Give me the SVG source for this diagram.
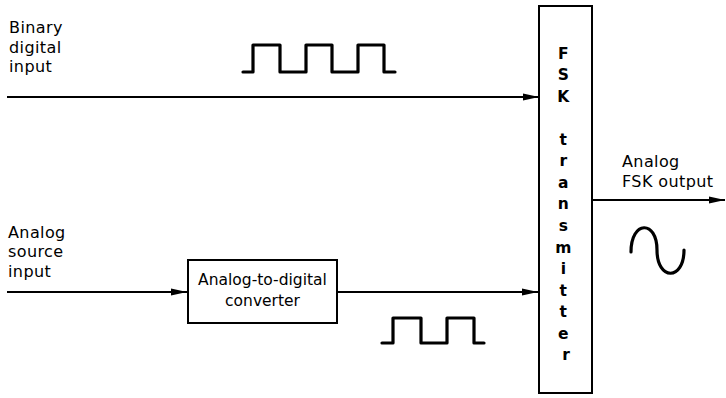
<svg xmlns="http://www.w3.org/2000/svg" width="726" height="398" viewBox="0 0 726 398">
  <defs>
    <marker id="arrow" viewBox="0 0 16 8" refX="16" refY="4" markerWidth="16" markerHeight="8" markerUnits="userSpaceOnUse" orient="auto">
      <path d="M0,0.6 L16,4 L0,7.4 Z" fill="#000"/>
    </marker>
  </defs>
  <style>
    .lbl { font-family: "DejaVu Sans", "Liberation Sans", sans-serif; font-size: 16px; letter-spacing: 0.4px; fill: #000; }
    .inbox { font-family: "DejaVu Sans", "Liberation Sans", sans-serif; font-size: 15.5px; fill: #000; }
    .box { fill: #fff; stroke: #000; stroke-width: 2; }
    .wire { fill: none; stroke: #000; stroke-width: 1.8; }
    .wave { fill: none; stroke: #000; stroke-width: 3.2; stroke-linejoin: round; stroke-linecap: round; }
    .vert { font-family: "DejaVu Sans", "Liberation Sans", sans-serif; font-size: 15.5px; font-weight: bold; fill: #000; }
  </style>
  <rect width="726" height="398" fill="#fff"/>

  <!-- connectors -->
  <g id="connectors">
    <path class="wire" d="M7,97 L539,97" marker-end="url(#arrow)"/>
    <path class="wire" d="M7,292 L187,292" marker-end="url(#arrow)"/>
    <path class="wire" d="M337,292 L538,292" marker-end="url(#arrow)"/>
    <path class="wire" d="M592,200 L725,200" marker-end="url(#arrow)"/>
  </g>

  <!-- input labels -->
  <g id="binary-input">
    <text class="lbl" x="9" y="33">Binary</text>
    <text class="lbl" x="9" y="53">digital</text>
    <text class="lbl" x="9" y="72">input</text>
  </g>
  <g id="analog-input">
    <text class="lbl" x="8" y="238">Analog</text>
    <text class="lbl" x="8" y="257">source</text>
    <text class="lbl" x="8" y="277">input</text>
  </g>

  <!-- digital pulse trains -->
  <g id="binary-pulses">
    <path class="wave" d="M243,72 L253,72 L253,45 L280,45 L280,72 L306,72 L306,45 L332,45 L332,72 L358,72 L358,45 L384,45 L384,72 L395,72"/>
  </g>
  <g id="converted-pulses">
    <path class="wave" d="M382,343 L393,343 L393,318 L421,318 L421,343 L447,343 L447,318 L474,318 L474,343 L484,343"/>
  </g>

  <!-- analog-to-digital converter -->
  <g id="adc">
    <rect class="box" x="188" y="260" width="149" height="63"/>
    <text class="inbox" x="262.5" y="285" text-anchor="middle">Analog-to-digital</text>
    <text class="inbox" x="262.5" y="306" text-anchor="middle">converter</text>
  </g>

  <!-- FSK transmitter block with stacked lettering -->
  <g id="fsk-transmitter">
    <rect class="box" x="539" y="6" width="53" height="387"/>
    <text class="vert" text-anchor="middle">
      <tspan x="566" y="58.5">F</tspan>
      <tspan x="566" y="80">S</tspan>
      <tspan x="566" y="101.5">K</tspan>
      <tspan x="566" y="144.5">t</tspan>
      <tspan x="566" y="166">r</tspan>
      <tspan x="566" y="187.5">a</tspan>
      <tspan x="566" y="209">n</tspan>
      <tspan x="566" y="231">s</tspan>
      <tspan x="566" y="252.5">m</tspan>
      <tspan x="566" y="274">i</tspan>
      <tspan x="566" y="295.5">t</tspan>
      <tspan x="566" y="317">t</tspan>
      <tspan x="566" y="338.5">e</tspan>
      <tspan x="566" y="360">r</tspan>
    </text>
  </g>

  <!-- analog output -->
  <g id="analog-output">
    <text class="lbl" x="622" y="167">Analog</text>
    <text class="lbl" x="622" y="187">FSK output</text>
    <path class="wave" d="M631,252 C631,220 657,220 657,250 C657,281 684,281 684,250"/>
  </g>
</svg>
